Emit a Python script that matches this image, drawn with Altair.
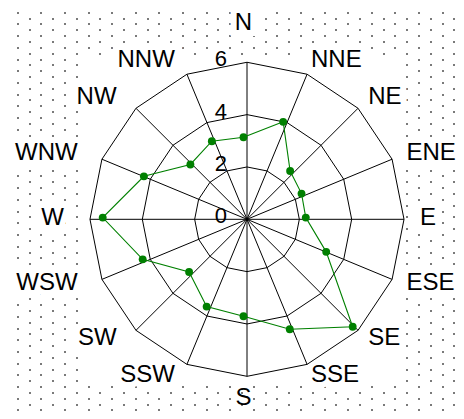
import altair as alt
import pandas as pd
import numpy as np

# ---- data ----
directions = ["N", "NNE", "NE", "ENE", "E", "ESE", "SE", "SSE",
              "S", "SSW", "SW", "WSW", "W", "WNW", "NW", "NNW"]
values = [3.07, 3.96, 2.52, 2.40, 2.38, 3.42, 5.90, 4.62,
          3.77, 3.68, 2.94, 4.17, 5.38, 4.12, 2.87, 3.16]
ring_ticks = [0, 2, 4, 6]
r_max = 6

# ---- layout ----
PX = 26.17                      # pixels per radial unit
W, H = 318, 326                 # plot area
PAD = {"left": 80, "top": 47, "right": 50, "bottom": 30}
CX_PAGE, CY_PAGE = 247.0, 219.3  # grid centre on the page
x_dom = [-(CX_PAGE - 88) / PX, (406 - CX_PAGE) / PX]
y_dom = [-(381 - CY_PAGE) / PX, (CY_PAGE - 55) / PX]
xs = alt.Scale(domain=x_dom, nice=False, zero=False)
ys = alt.Scale(domain=y_dom, nice=False, zero=False)
DX, DY = -3.5, -1.7             # data / label offset seen in the reference
FONT = "Liberation Sans"
GREEN = "#008000"

n = len(directions)
ang_expr = f"datum.idx * 2 * PI / {n}"

# ---- tables ----
df_dir = pd.DataFrame({"idx": list(range(n)), "dir": directions, "value": values})
df_closed = pd.concat([df_dir, df_dir.iloc[[0]].assign(idx=n)], ignore_index=True)
df_closed["order"] = range(len(df_closed))

df_spokes = pd.DataFrame({"idx": list(range(n))})
df_rings = pd.DataFrame([{"ring": r, "idx": i} for r in ring_ticks if r > 0 for i in range(n + 1)])
df_ticks = pd.DataFrame({"tick": ring_ticks})

# background dotted texture (page pixels -> data units)
pts = []
for j in range(75):
    for i in range(40):
        if (i + j) % 2 == 1:
            px = round(6 + 11.8 * i)
            py = round(1 + 5.85 * j)
            if 9 <= px <= 455 and 9 <= py <= 410:
                if not (88 <= px <= 406 and 55 <= py <= 381):
                    pts.append(((px - CX_PAGE) / PX, (CY_PAGE - py) / PX))
df_dots = pd.DataFrame(pts, columns=["x", "y"])

X = lambda f: alt.X(f, scale=xs, axis=None)
Y = lambda f: alt.Y(f, scale=ys, axis=None)

dots = alt.Chart(df_dots).mark_square(size=4, color="#7a7a7a", opacity=1, clip=False).encode(
    x=X("x:Q"), y=Y("y:Q"))

rings = alt.Chart(df_rings).transform_calculate(
    a=ang_expr, x="datum.ring * sin(datum.a)", y="datum.ring * cos(datum.a)"
).mark_line(color="black", strokeWidth=1).encode(
    x=X("x:Q"), y=Y("y:Q"), detail="ring:N", order="idx:Q")

spokes = alt.Chart(df_spokes).transform_calculate(
    a=ang_expr, x0="0", y0="0",
    x1=f"{r_max} * sin(datum.a)", y1=f"{r_max} * cos(datum.a)"
).mark_rule(color="black", strokeWidth=1).encode(
    x=X("x0:Q"), y=Y("y0:Q"), x2="x1:Q", y2="y1:Q")

data_base = alt.Chart(df_closed).transform_calculate(
    a=ang_expr, x="datum.value * sin(datum.a)", y="datum.value * cos(datum.a)")
line = data_base.mark_line(color=GREEN, strokeWidth=1.1, xOffset=DX, yOffset=DY).encode(
    x=X("x:Q"), y=Y("y:Q"), order="order:Q")
points = data_base.transform_filter(f"datum.idx < {n}").mark_circle(
    color=GREEN, size=62, opacity=1, xOffset=DX, yOffset=DY).encode(
    x=X("x:Q"), y=Y("y:Q"))

ticks = alt.Chart(df_ticks).transform_calculate(x0="0").mark_text(
    font=FONT, fontSize=22, align="right", baseline="middle", dx=-20, dy=-3, color="black"
).encode(x=X("x0:Q"), y=Y("tick:Q"), text="tick:N")


def label_layers(filter_expr, align, rh, ly_expr, halo_on=True):
    base = alt.Chart(df_dir).transform_filter(filter_expr).transform_calculate(
        a=ang_expr, lx=f"{rh} * sin(datum.a)", ly=ly_expr)
    enc = dict(x=X("lx:Q"), y=Y("ly:Q"), text="dir:N")
    halo = base.mark_text(font=FONT, fontSize=24, align=align, baseline="middle",
                          color="white", stroke="white", strokeWidth=12,
                          xOffset=DX, yOffset=DY).encode(**enc)
    txt = base.mark_text(font=FONT, fontSize=24, align=align, baseline="middle",
                         color="black", xOffset=DX, yOffset=DY).encode(**enc)
    return halo, txt


h1, t1 = label_layers(f"datum.idx > 0 && datum.idx < {n // 2}", "left", 6.74,
                      "6.5 * cos(datum.a)")
h2, t2 = label_layers(f"datum.idx > {n // 2}", "right", 6.86, "6.5 * cos(datum.a)")
h3, t3 = label_layers("datum.idx == 0", "center", 0, "7.43")
_, t4 = label_layers(f"datum.idx == {n // 2}", "center", 0, "-6.9")

chart = alt.layer(
    dots, h1, h2, h3, rings, spokes, line, points, ticks, t1, t2, t3, t4
).properties(
    width=W, height=H, padding=PAD, autosize=alt.AutoSizeParams(type="none"),
    background="white"
).configure_view(stroke=None, fill="white")

chart.save("out.html", embed_options={"renderer": "svg", "actions": False})
